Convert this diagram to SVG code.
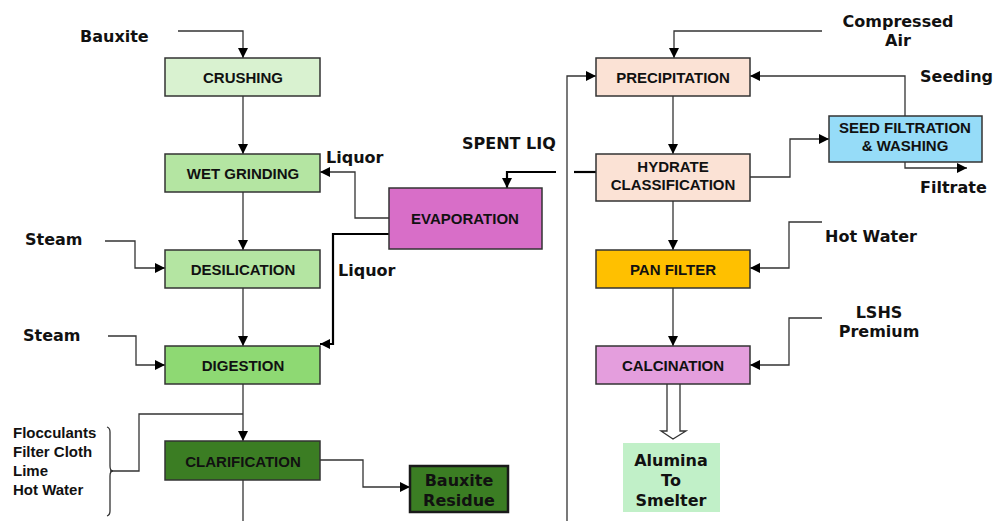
<svg xmlns="http://www.w3.org/2000/svg" width="995" height="521" viewBox="0 0 995 521">
<style>
.box{stroke:#333;stroke-width:1.5}
.bl{font-family:"Liberation Sans",Arial,sans-serif;font-weight:bold;font-size:15px;fill:#111;text-anchor:middle}
.vl{font-family:"DejaVu Sans",Verdana,sans-serif;font-weight:bold;font-size:16px;fill:#111}
.al{font-family:"Liberation Sans",Arial,sans-serif;font-weight:bold;font-size:15px;fill:#111}
.ln{fill:none;stroke:#333;stroke-width:1.3}
.tk{fill:none;stroke:#000;stroke-width:2.2}
</style>
<defs>
<marker id="ah" viewBox="0 0 10 10" refX="10" refY="5" markerWidth="10" markerHeight="10" markerUnits="userSpaceOnUse" orient="auto">
<path d="M0,0 L10,5 L0,10 z" fill="#000"/>
</marker>
</defs>
<rect width="995" height="521" fill="#fff"/>

<g id="connectors">
<path class="ln" d="M178,31 H243 V58" marker-end="url(#ah)"/>
<path class="ln" d="M243,96 V154" marker-end="url(#ah)"/>
<path class="ln" d="M243,192 V250" marker-end="url(#ah)"/>
<path class="ln" d="M243,288 V346" marker-end="url(#ah)"/>
<path class="ln" d="M243,384 V441" marker-end="url(#ah)"/>
<path class="ln" d="M243,480 V521"/>
<path class="ln" d="M105,241 H135 V268 H165" marker-end="url(#ah)"/>
<path class="ln" d="M108,336 H136 V365 H165" marker-end="url(#ah)"/>
<path class="ln" d="M110,471 H139 V414 H243"/>
<path class="ln" d="M107,427 Q110,428 110,432 V466 Q110,471 113,471 Q110,471 110,476 V511 Q110,515 107,516"/>
<path class="ln" d="M320,460 H363 V487 H410" marker-end="url(#ah)"/>
<path class="ln" d="M389,218 H355 V172 H320" marker-end="url(#ah)"/>
<path class="tk" d="M389,234 H333 V344 H320" marker-end="url(#ah)"/>
<path class="tk" d="M556,172 H507 V188" marker-end="url(#ah)"/>
<path class="tk" d="M574,172 H596"/>
<path class="ln" d="M567,521 V76 H596" marker-end="url(#ah)"/>
<path class="ln" d="M822,31 H674 V58" marker-end="url(#ah)"/>
<path class="ln" d="M673,96 V154" marker-end="url(#ah)"/>
<path class="ln" d="M905,116 V76 H750" marker-end="url(#ah)"/>
<path class="ln" d="M750,177 H790 V139 H829" marker-end="url(#ah)"/>
<path class="ln" d="M905,162 V168 H967" marker-end="url(#ah)"/>
<path class="ln" d="M673,201 V250" marker-end="url(#ah)"/>
<path class="ln" d="M822,222 H789 V268 H750" marker-end="url(#ah)"/>
<path class="ln" d="M673,288 V346" marker-end="url(#ah)"/>
<path class="ln" d="M822,318 H789 V365 H750" marker-end="url(#ah)"/>
<path d="M667,384 V431 H661 L673,439 L686,431 H680 V384" fill="#fff" stroke="#333" stroke-width="1.3"/>
</g>

<g id="labels">
<text class="vl" x="80" y="42">Bauxite</text>
<text class="vl" x="25" y="245">Steam</text>
<text class="vl" x="23" y="341">Steam</text>
<text class="vl" x="326" y="163">Liquor</text>
<text class="vl" x="338" y="276">Liquor</text>
<text class="vl" x="462" y="149">SPENT LIQ</text>
<text class="vl" x="898" y="27" text-anchor="middle">Compressed</text>
<text class="vl" x="898" y="46" text-anchor="middle">Air</text>
<text class="vl" x="920" y="82">Seeding</text>
<text class="vl" x="920" y="193">Filtrate</text>
<text class="vl" x="825" y="242">Hot Water</text>
<text class="vl" x="879" y="318" text-anchor="middle">LSHS</text>
<text class="vl" x="879" y="337" text-anchor="middle">Premium</text>
<text class="al" x="13" y="438">Flocculants</text>
<text class="al" x="13" y="457">Filter Cloth</text>
<text class="al" x="13" y="476">Lime</text>
<text class="al" x="13" y="495">Hot Water</text>
</g>

<g id="crushing"><rect class="box" x="165" y="58" width="155" height="38" fill="#d9f2d0"/><text class="bl" x="243" y="83">CRUSHING</text></g>
<g id="wet-grinding"><rect class="box" x="165" y="154" width="155" height="38" fill="#b4e5a2"/><text class="bl" x="243" y="179">WET GRINDING</text></g>
<g id="desilication"><rect class="box" x="165" y="250" width="155" height="38" fill="#b4e5a2"/><text class="bl" x="243" y="275">DESILICATION</text></g>
<g id="digestion"><rect class="box" x="165" y="346" width="155" height="38" fill="#8ed973"/><text class="bl" x="243" y="371">DIGESTION</text></g>
<g id="clarification"><rect class="box" x="165" y="441" width="155" height="39" fill="#3b7d23"/><text class="bl" x="243" y="467">CLARIFICATION</text></g>
<g id="bauxite-residue"><rect x="410" y="466" width="98" height="46" fill="#3b7d23" stroke="#1a1a1a" stroke-width="2.5"/><text class="vl" x="459" y="486" text-anchor="middle">Bauxite</text><text class="vl" x="459" y="506" text-anchor="middle">Residue</text></g>
<g id="evaporation"><rect class="box" x="389" y="188" width="153" height="61" fill="#d86ec8"/><text class="bl" x="465" y="224">EVAPORATION</text></g>
<g id="precipitation"><rect class="box" x="596" y="58" width="154" height="38" fill="#fbe2d5"/><text class="bl" x="673" y="83">PRECIPITATION</text></g>
<g id="hydrate-classification"><rect class="box" x="596" y="154" width="154" height="47" fill="#fbe2d5"/><text class="bl" x="673" y="172">HYDRATE</text><text class="bl" x="673" y="190">CLASSIFICATION</text></g>
<g id="seed-filtration"><rect class="box" x="829" y="116" width="153" height="46" fill="#96dcf8"/><text class="bl" x="905" y="133">SEED FILTRATION</text><text class="bl" x="905" y="151">&amp; WASHING</text></g>
<g id="pan-filter"><rect class="box" x="596" y="250" width="154" height="38" fill="#ffc000"/><text class="bl" x="673" y="275">PAN FILTER</text></g>
<g id="calcination"><rect class="box" x="596" y="346" width="154" height="38" fill="#e49edd"/><text class="bl" x="673" y="371">CALCINATION</text></g>
<g id="alumina"><rect x="623" y="443" width="97" height="69" fill="#c1f0c8"/><text class="vl" x="671" y="466" text-anchor="middle">Alumina</text><text class="vl" x="671" y="486" text-anchor="middle">To</text><text class="vl" x="671" y="506" text-anchor="middle">Smelter</text></g>
</svg>
